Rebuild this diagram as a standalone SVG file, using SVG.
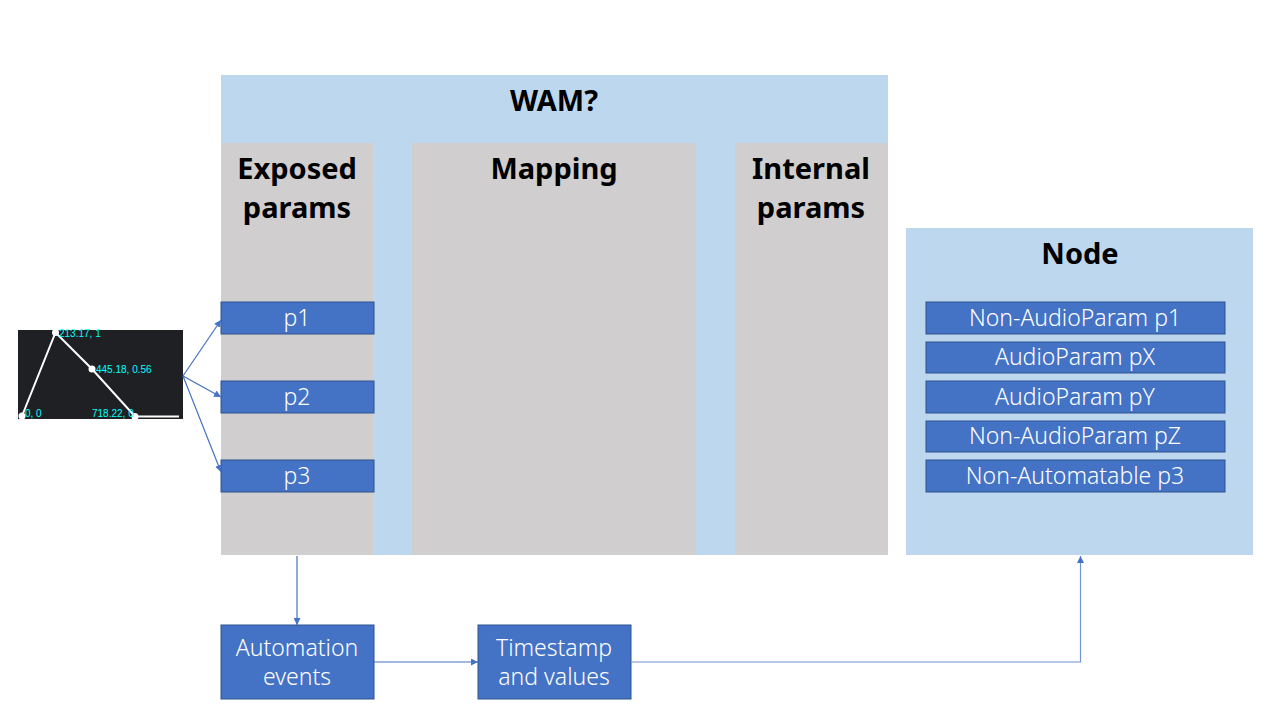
<svg xmlns="http://www.w3.org/2000/svg" width="1280" height="720" viewBox="0 0 1280 720">
<style>
.panel{fill:#BDD7EE}
.col{fill:#D0CECE}
.box{fill:#4472C4;stroke:#2F528F;stroke-width:1}
.ttl{font-family:"Noto Sans","Liberation Sans",sans-serif;font-weight:bold;font-size:29px;fill:#000;text-anchor:middle}
.lbl{font-family:"Noto Sans","Liberation Sans",sans-serif;font-weight:300;font-size:23px;fill:#fff;text-anchor:middle}
.cap{font-family:"Liberation Sans",Arial,sans-serif;font-size:10px;fill:#00FFFF}
.con{fill:none;stroke:#4472C4;stroke-width:1.2}
</style>
<defs>
<marker id="ah" viewBox="0 0 10 10" refX="10" refY="5" markerWidth="7" markerHeight="7" markerUnits="userSpaceOnUse" orient="auto">
<path d="M0,0 L10,5 L0,10 z" fill="#4472C4"/>
</marker>
</defs>
<rect width="1280" height="720" fill="#fff"/>
<g id="wam">
<rect class="panel" x="221" y="75" width="667" height="480"/>
<text class="ttl" x="554" y="111">WAM?</text>
</g>
<g id="exposed">
<rect class="col" x="221" y="143" width="152" height="412"/>
<text class="ttl" x="297" y="179">Exposed</text>
<text class="ttl" x="297" y="218">params</text>
</g>
<g id="mapping">
<rect class="col" x="412" y="143" width="284" height="412"/>
<text class="ttl" x="554" y="179">Mapping</text>
</g>
<g id="internal">
<rect class="col" x="735" y="143" width="153" height="412"/>
<text class="ttl" x="811" y="179">Internal</text>
<text class="ttl" x="811" y="218">params</text>
</g>
<g id="p1"><rect class="box" x="221" y="302" width="153" height="32"/><text class="lbl" x="297" y="326">p1</text></g>
<g id="p2"><rect class="box" x="221" y="381" width="153" height="32"/><text class="lbl" x="297" y="405">p2</text></g>
<g id="p3"><rect class="box" x="221" y="460" width="153" height="32"/><text class="lbl" x="297" y="484">p3</text></g>
<g id="node">
<rect class="panel" x="906" y="228" width="347" height="327"/>
<text class="ttl" x="1080" y="264">Node</text>
</g>
<g id="n1"><rect class="box" x="926" y="302" width="299" height="32"/><text class="lbl" x="1075" y="326">Non-AudioParam p1</text></g>
<g id="n2"><rect class="box" x="926" y="342" width="299" height="31"/><text class="lbl" x="1075" y="365">AudioParam pX</text></g>
<g id="n3"><rect class="box" x="926" y="381" width="299" height="32"/><text class="lbl" x="1075" y="405">AudioParam pY</text></g>
<g id="n4"><rect class="box" x="926" y="421" width="299" height="31"/><text class="lbl" x="1075" y="444">Non-AudioParam pZ</text></g>
<g id="n5"><rect class="box" x="926" y="460" width="299" height="32"/><text class="lbl" x="1075" y="484">Non-Automatable p3</text></g>
<g id="automation"><rect class="box" x="221" y="625" width="153" height="74"/><text class="lbl" x="297" y="656">Automation</text><text class="lbl" x="297" y="685">events</text></g>
<g id="timestamp"><rect class="box" x="478" y="625" width="153" height="74"/><text class="lbl" x="554" y="656">Timestamp</text><text class="lbl" x="554" y="685">and values</text></g>
<g id="curve">
<rect x="18" y="330" width="165" height="89" fill="#1F2023"/>
<polyline points="22,416 55.5,332.5 92,369 135,416.5 179,416.5" fill="none" stroke="#fff" stroke-width="2"/>
<circle cx="22" cy="416" r="3.5" fill="#fff"/>
<circle cx="55.5" cy="332.5" r="3.5" fill="#fff"/>
<circle cx="92" cy="369" r="3.5" fill="#fff"/>
<circle cx="135" cy="416.5" r="3.5" fill="#fff"/>
<text class="cap" x="59" y="337">213.17, 1</text>
<text class="cap" x="96" y="373">445.18, 0.56</text>
<text class="cap" x="25" y="417">0, 0</text>
<text class="cap" x="92" y="417">718.22, 0</text>
</g>
<g id="connectors">
<line class="con" x1="183" y1="376" x2="221" y2="320" marker-end="url(#ah)"/>
<line class="con" x1="183" y1="376" x2="221" y2="397" marker-end="url(#ah)"/>
<line class="con" x1="183" y1="376" x2="221" y2="472" marker-end="url(#ah)"/>
<line class="con" x1="297" y1="556" x2="297" y2="625" marker-end="url(#ah)"/>
<line class="con" x1="374" y1="662" x2="478" y2="662" marker-end="url(#ah)"/>
<polyline class="con" points="631,662 1080.5,662 1080.5,556" marker-end="url(#ah)" style="stroke:#6F93D6"/>
</g>
</svg>
